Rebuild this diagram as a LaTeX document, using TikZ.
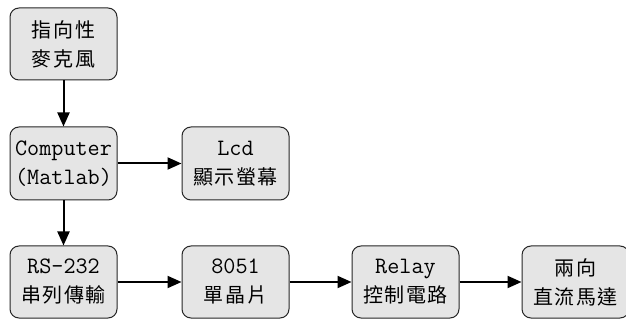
\documentclass[tikz,border=0pt]{standalone}
\usepackage{fontspec}
\newfontfamily\cjkf[LetterSpace=8]{Noto Sans CJK TC}
\newcommand\cjk{\cjkf\fontsize{20}{29}\selectfont}
\newcommand\lat{\ttfamily\fontsize{23.5}{29}\selectfont}
\usetikzlibrary{arrows.meta}
\tikzset{
  box/.style={draw=black!85, line width=1pt, fill=black!10, rounded corners=9pt,
    minimum width=107pt, minimum height=72pt, inner sep=0pt, align=center,
    font=\fontsize{20}{29}\selectfont},
  arr/.style={line width=2pt, -{Triangle[length=14pt,width=12pt]}}
}
\begin{document}
\begin{tikzpicture}[x=1pt,y=-1pt]
\useasboundingbox (0,0) rectangle (626,320);
\node[box] (mic) at (63.5,44) {\cjk 指向性\\\cjk 麥克風};
\node[box, minimum height=73pt] (comp) at (63.5,163.5) {\lat Computer\\\lat (Matlab)};
\node[box, minimum height=73pt] (lcd) at (235.5,163.5) {\lat Lcd\\\cjk 顯示螢幕};
\node[box] (rs) at (63.5,282) {\lat RS-232\\\cjk 串列傳輸};
\node[box] (mcu) at (235.5,282) {\lat 8051\\\cjk 單晶片};
\node[box] (relay) at (405.5,282) {\lat Relay\\\cjk 控制電路};
\node[box] (motor) at (575.5,282) {\cjk 兩向\\\cjk 直流馬達};
\draw[arr] (mic) -- (comp);
\draw[arr] (comp) -- (lcd);
\draw[arr] (comp) -- (rs);
\draw[arr] (rs) -- (mcu);
\draw[arr] (mcu) -- (relay);
\draw[arr] (relay) -- (motor);
\end{tikzpicture}
\end{document}
